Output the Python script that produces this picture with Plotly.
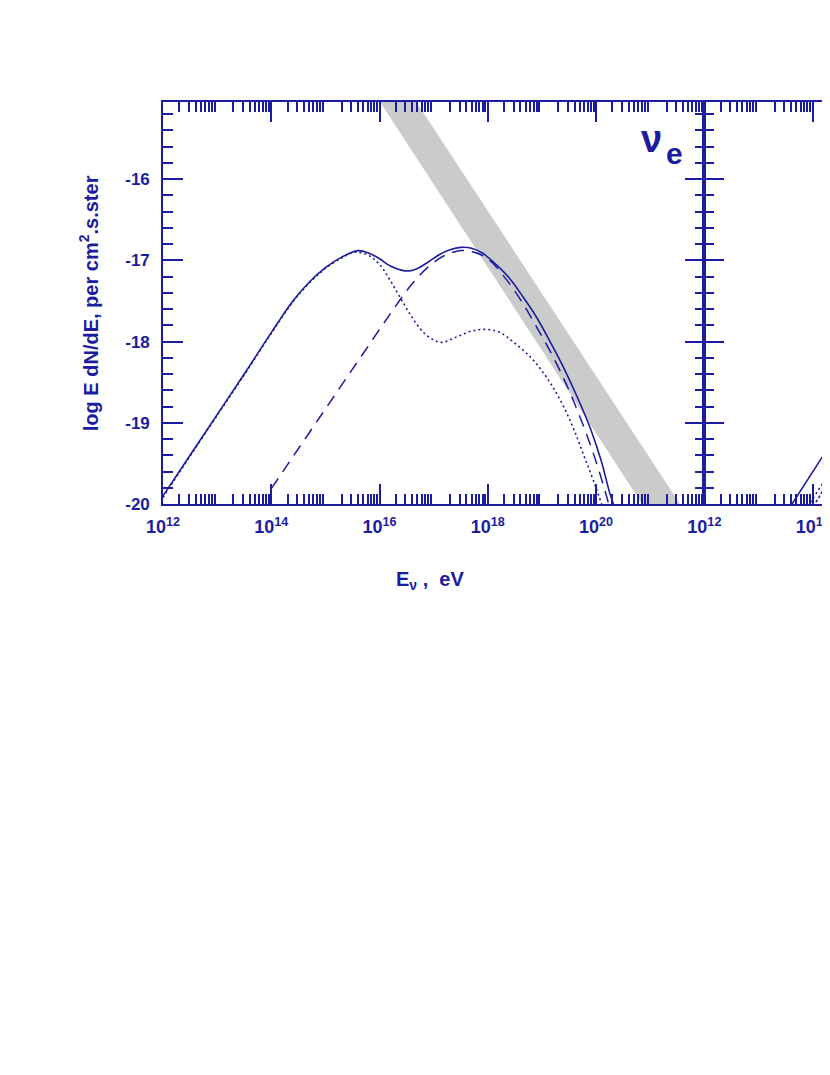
import plotly.graph_objects as go
import numpy as np

# ---------------- data ----------------
solid_logE = [12.0, 12.5, 13.0, 13.5, 14.0, 14.4, 14.7, 15.0, 15.3, 15.6, 15.8, 16.0, 16.2, 16.4,
              16.55, 16.7, 16.9, 17.1, 17.3, 17.5, 17.7, 17.9, 18.15, 18.4, 18.65, 18.9, 19.15,
              19.4, 19.65, 19.9, 20.1, 20.25, 20.32]
solid_logF = [-19.90, -19.40, -18.90, -18.40, -17.89, -17.50, -17.27, -17.09, -16.96, -16.88, -16.91,
              -16.98, -17.07, -17.12, -17.13, -17.10, -17.02, -16.93, -16.87, -16.84, -16.85, -16.91,
              -17.05, -17.22, -17.45, -17.70, -18.00, -18.32, -18.68, -19.08, -19.48, -19.86, -20.0]

dashed_logE = [14.0, 14.5, 15.0, 15.5, 16.0, 16.3, 16.6, 16.9, 17.2, 17.5, 17.7, 18.0, 18.3, 18.6,
               18.9, 19.2, 19.5, 19.8, 20.0, 20.2, 20.23]
dashed_logF = [-19.81, -19.32, -18.83, -18.34, -17.85, -17.56, -17.29, -17.08, -16.94, -16.88, -16.89,
               -16.98, -17.20, -17.48, -17.82, -18.18, -18.60, -19.10, -19.48, -19.92, -20.0]

dotted_logE = [12.0, 12.5, 13.0, 13.5, 14.0, 14.4, 14.7, 15.0, 15.3, 15.55, 15.8, 16.0, 16.2, 16.4,
               16.6, 16.8, 17.0, 17.15, 17.4, 17.7, 17.95, 18.2, 18.5, 18.8, 19.0, 19.2, 19.4,
               19.6, 19.8, 20.0, 20.1]
dotted_logF = [-19.92, -19.41, -18.91, -18.41, -17.90, -17.51, -17.28, -17.10, -16.97, -16.90, -16.94,
               -17.05, -17.25, -17.48, -17.70, -17.88, -17.98, -18.01, -17.95, -17.87, -17.85, -17.88,
               -18.02, -18.20, -18.36, -18.56, -18.80, -19.10, -19.45, -19.80, -20.0]

# second (cut-off) panel
solid2_logE = [13.62, 14.0, 14.4]
solid2_logF = [-20.0, -19.60, -19.19]
dotted2_logE = [13.96, 14.2, 14.4]
dotted2_logF = [-19.98, -19.73, -19.52]
dashed2_logE = [14.06, 14.2, 14.4]
dashed2_logF = [-19.98, -19.82, -19.60]

# grey band (upper bound region)
band_logE = [16.01, 16.68, 21.55, 20.85]
band_logF = [-15.05, -15.05, -20.0, -20.0]

label_decades = [12, 14, 16, 18, 20]
xtick_text = ["10<sup>12</sup>", "10<sup>14</sup>", "10<sup>16</sup>", "10<sup>18</sup>", "10<sup>20</sup>"]
unlabeled_decades = [13, 15, 17, 19, 21, 22]
x2_label_decades = [12, 14]
x2tick_text = ["10<sup>12</sup>", "10<sup>14</sup>"]
x2_unlabeled_decades = [13]
ytick_vals = [-20, -19, -18, -17, -16, -15]
ytick_text = ["-20", "-19", "-18", "-17", "-16", "-15"]

# ---------------- style ----------------
BLUE = "#1c1ca0"
FONT = "Liberation Sans"
minor_x = [d + np.log10(k) for d in range(12, 22) for k in range(2, 10)]

# page body has an 8px margin -> compensate
OFF = 8
W, H = 830 - OFF, 1050
L, R, T = 163 - OFF, 0, 102 - OFF
PH = 402
B = H - T - PH
PW = W - L - R
split = 543 / PW
PX_PER_DEC = 54.3

fig = go.Figure()

fig.add_trace(go.Scatter(x=band_logE, y=band_logF, mode="lines", fill="toself",
                         fillcolor="#cbcbcb", line=dict(width=0), hoverinfo="skip",
                         xaxis="x", yaxis="y"))
fig.add_trace(go.Scatter(x=dotted_logE, y=dotted_logF, mode="lines",
                         line=dict(color=BLUE, width=1.6, dash="2px,3px", shape="spline"),
                         xaxis="x", yaxis="y"))
fig.add_trace(go.Scatter(x=dashed_logE, y=dashed_logF, mode="lines",
                         line=dict(color=BLUE, width=1.5, dash="12px,8px", shape="spline"),
                         xaxis="x", yaxis="y"))
fig.add_trace(go.Scatter(x=solid_logE, y=solid_logF, mode="lines",
                         line=dict(color=BLUE, width=1.6, shape="spline"),
                         xaxis="x", yaxis="y"))

fig.add_trace(go.Scatter(x=dotted2_logE, y=dotted2_logF, mode="lines",
                         line=dict(color=BLUE, width=1.6, dash="2px,3px"),
                         xaxis="x2", yaxis="y2"))
fig.add_trace(go.Scatter(x=dashed2_logE, y=dashed2_logF, mode="lines",
                         line=dict(color=BLUE, width=1.5, dash="3px,2px"),
                         xaxis="x2", yaxis="y2"))
fig.add_trace(go.Scatter(x=solid2_logE, y=solid2_logF, mode="lines",
                         line=dict(color=BLUE, width=1.6),
                         xaxis="x2", yaxis="y2"))

tickstyle = dict(ticks="inside", ticklen=20, tickwidth=1.5, tickcolor=BLUE,
                 showgrid=False, zeroline=False, tickmode="array")
minorstyle = dict(ticks="inside", ticklen=10, tickwidth=1.5, tickcolor=BLUE, showgrid=False)
xlabfont = dict(family=FONT, size=18, color=BLUE, weight="bold")

r1 = [12, 22]
r2 = [12, 12 + (PW - 543) / PX_PER_DEC]

fig.update_layout(
    width=W, height=H, autosize=False,
    margin=dict(l=L, r=R, t=T, b=B, pad=0),
    paper_bgcolor="white", plot_bgcolor="white",
    showlegend=False,
    xaxis=dict(domain=[0, split], range=r1, anchor="y",
               showline=True, linecolor=BLUE, linewidth=1.6, mirror="allticks",
               tickvals=label_decades, ticktext=xtick_text, tickfont=xlabfont,
               ticklabelstandoff=6,
               minor=dict(tickmode="array", tickvals=minor_x, **minorstyle), **tickstyle),
    xaxis3=dict(overlaying="x", range=r1, anchor="y", showline=False, mirror="allticks",
                tickvals=unlabeled_decades, showticklabels=False, **tickstyle),
    xaxis2=dict(domain=[split, 1], range=r2, anchor="y2",
                showline=True, linecolor=BLUE, linewidth=1.6, mirror="allticks",
                tickvals=x2_label_decades, ticktext=x2tick_text, tickfont=xlabfont,
                ticklabelstandoff=6, ticklabeloverflow="allow",
                minor=dict(tickmode="array", tickvals=minor_x, **minorstyle), **tickstyle),
    xaxis4=dict(overlaying="x2", range=r2, anchor="y2", showline=False, mirror="allticks",
                tickvals=x2_unlabeled_decades, showticklabels=False, **tickstyle),
    yaxis=dict(domain=[0, 1], range=[-20, -15.05], anchor="x",
               showline=True, linecolor=BLUE, linewidth=1.6, mirror="allticks",
               tickvals=ytick_vals, ticktext=ytick_text,
               tickfont=dict(family=FONT, size=17, color=BLUE, weight="bold"),
               ticklabelstandoff=8,
               minor=dict(dtick=0.2, tick0=-20, **minorstyle), **tickstyle),
    yaxis2=dict(domain=[0, 1], range=[-20, -15.05], anchor="x2",
                showline=True, linecolor=BLUE, linewidth=1.6, mirror=False,
                showticklabels=False, tickvals=ytick_vals,
                minor=dict(dtick=0.2, tick0=-20, **minorstyle), **tickstyle),
)


def px_to_paper(xpx, ypx):
    return (xpx - 163) / PW, (102 + PH - ypx) / PH


ax, ay = px_to_paper(88, 303)
fig.add_annotation(text="log E dN/dE, per cm<sup>2</sup>.s.ster", textangle=-90,
                   xref="paper", yref="paper", x=ax, y=ay,
                   xanchor="center", yanchor="middle", showarrow=False,
                   font=dict(family=FONT, size=20, color=BLUE, weight="bold"))
bx, by = px_to_paper(431, 580)
fig.add_annotation(text="E<sub>ν</sub> ,  eV",
                   xref="paper", yref="paper", x=bx, y=by,
                   xanchor="center", yanchor="middle", showarrow=False,
                   font=dict(family=FONT, size=20, color=BLUE, weight="bold"))
fig.add_annotation(text="ν", xref="x", yref="y", x=21.02, y=-15.50,
                   xanchor="center", yanchor="middle", showarrow=False,
                   font=dict(family=FONT, size=38, color=BLUE, weight="bold"))
fig.add_annotation(text="e", xref="x", yref="y", x=21.45, y=-15.69,
                   xanchor="center", yanchor="middle", showarrow=False,
                   font=dict(family=FONT, size=30, color=BLUE, weight="bold"))

fig.write_html("out.html")
